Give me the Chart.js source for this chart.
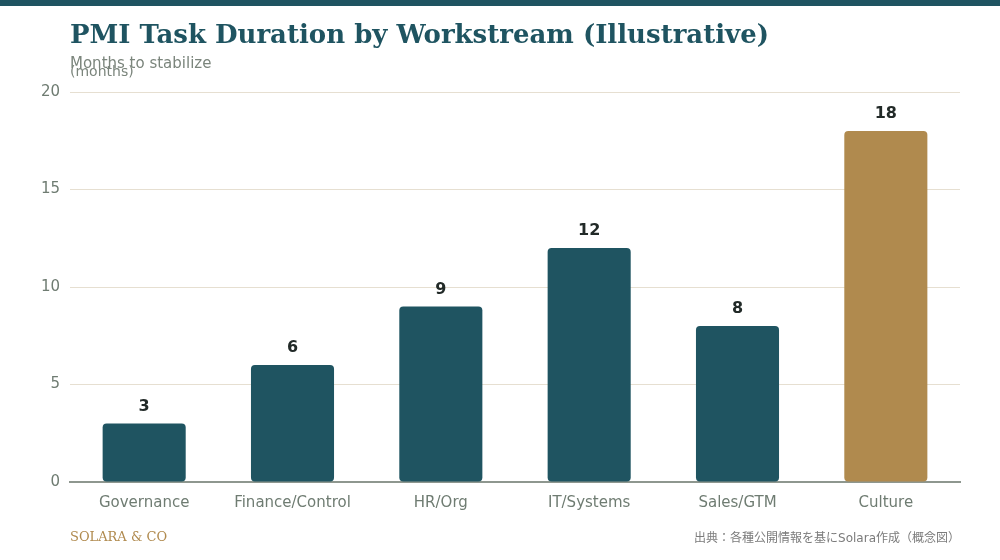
<!DOCTYPE html>
<html lang="en">
<head>
    <meta charset="UTF-8">
    <title>PMI Task Duration by Workstream</title>
    <script src="https://cdn.jsdelivr.net/npm/chart.js@4.4.0/dist/chart.umd.min.js"></script>
    <style>
        body {
            margin: 0;
            width: 1000px;
            height: 560px;
            background: #ffffff;
            font-family: 'DejaVu Sans', sans-serif;
            position: relative;
            overflow: hidden;
        }
        .topbar {
            position: absolute;
            left: 0; top: 0;
            width: 1000px; height: 6px;
            background: #1f5461;
        }
        .title {
            position: absolute;
            left: 70px; top: 19px;
            font-family: 'DejaVu Serif', serif;
            font-weight: bold;
            font-size: 26px;
            color: #1f5461;
            white-space: nowrap;
        }
        .subtitle {
            position: absolute;
            left: 70px; top: 54px;
            font-size: 15px;
            color: #7b857c;
        }
        .brand {
            position: absolute;
            left: 70px; top: 529px;
            font-family: 'DejaVu Serif', serif;
            font-size: 13px;
            color: #b08a4e;
        }
        .source {
            position: absolute;
            right: 40px; top: 528px;
            font-size: 12px;
            color: #7b7b7b;
            font-family: 'DejaVu Sans', 'Noto Sans CJK JP', sans-serif;
        }
        #wrap {
            position: absolute;
            left: 0; top: 0;
            width: 1000px; height: 560px;
        }
    </style>
</head>
<body>
<div id="wrap"><canvas id="pmiChart"></canvas></div>
<div class="topbar"></div>
<div class="title">PMI Task Duration by Workstream (Illustrative)</div>
<div class="subtitle">Months to stabilize</div>
<div class="brand">SOLARA &amp; CO</div>
<div class="source">出典：各種公開情報を基にSolara作成（概念図）</div>

<script>
    const workstreams = ["Governance", "Finance/Control", "HR/Org", "IT/Systems", "Sales/GTM", "Culture"];
    const months = [3, 6, 9, 12, 8, 18];
    const barColors = ["#1f5461", "#1f5461", "#1f5461", "#1f5461", "#1f5461", "#b08a4e"];
    const yTicks = [0, 5, 10, 15, 20];

    // value labels above each bar + the "(months)" axis caption
    const labelPlugin = {
        id: 'valueLabels',
        afterDatasetsDraw(chart) {
            const ctx = chart.ctx;
            const meta = chart.getDatasetMeta(0);
            ctx.save();
            ctx.font = 'bold 16px "DejaVu Sans"';
            ctx.fillStyle = '#222a28';
            ctx.textAlign = 'center';
            ctx.textBaseline = 'bottom';
            meta.data.forEach((bar, i) => {
                ctx.fillText(months[i], bar.x, bar.y - 9);
            });
            ctx.font = '14px "DejaVu Sans"';
            ctx.fillStyle = '#7b857c';
            ctx.textAlign = 'left';
            ctx.textBaseline = 'alphabetic';
            ctx.fillText('(months)', 70, 76);
            ctx.restore();
        }
    };

    new Chart(document.getElementById('pmiChart').getContext('2d'), {
        type: 'bar',
        data: {
            labels: workstreams,
            datasets: [{
                data: months,
                backgroundColor: barColors,
                borderRadius: 4,
                borderSkipped: false,
                categoryPercentage: 1.0,
                barPercentage: 0.56
            }]
        },
        options: {
            responsive: true,
            maintainAspectRatio: false,
            animation: false,
            layout: { padding: { top: 92, right: 40, bottom: 38, left: 0 } },
            plugins: {
                legend: { display: false },
                tooltip: { enabled: false }
            },
            scales: {
                x: {
                    grid: { display: false, drawTicks: false },
                    border: { color: '#8e978f', width: 2 },
                    ticks: {
                        color: '#6f7c72',
                        font: { size: 15, family: 'DejaVu Sans' },
                        padding: 12
                    },
                    afterFit(scale) { scale.height = 40; }
                },
                y: {
                    min: 0,
                    max: 20,
                    afterBuildTicks(scale) {
                        scale.ticks = yTicks.map(v => ({ value: v }));
                    },
                    grid: { color: '#e6dfd1', lineWidth: 1, drawTicks: false },
                    border: { display: false },
                    ticks: {
                        color: '#6f7c72',
                        font: { size: 15, family: 'DejaVu Sans' },
                        padding: 10
                    },
                    afterFit(scale) { scale.width = 70; }
                }
            }
        },
        plugins: [labelPlugin]
    });
</script>
</body>
</html>
